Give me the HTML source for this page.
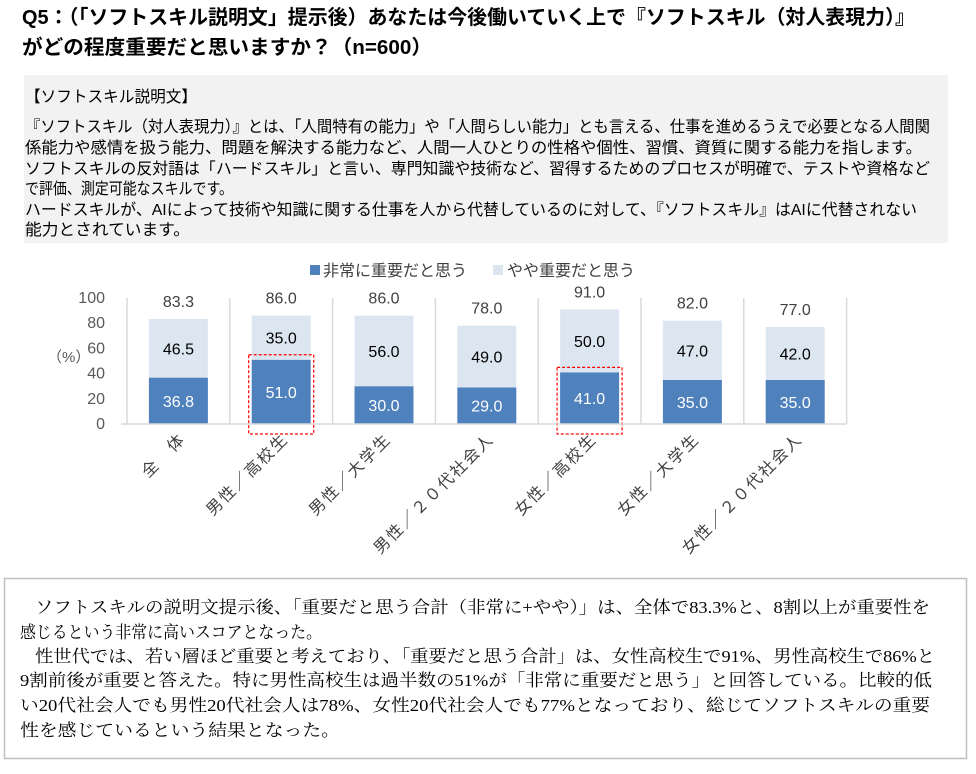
<!DOCTYPE html>
<html><head><meta charset="utf-8"><style>
html,body{margin:0;padding:0;background:#fff;}
svg{display:block;}
.t{font-family:"Liberation Sans","Noto Sans CJK JP",sans-serif;}
.s{font-family:"Liberation Serif","Noto Serif CJK SC",serif;}
</style></head><body>
<svg id="pg" width="976" height="774" viewBox="0 0 976 774" xmlns="http://www.w3.org/2000/svg">
<g class="t" font-weight="bold" font-size="20" fill="#000">
<text x="22" y="24" textLength="893" lengthAdjust="spacingAndGlyphs">Q5：（「ソフトスキル説明文」提示後）あなたは今後働いていく上で『ソフトスキル（対人表現力）』</text>
<text x="22" y="54" textLength="410" lengthAdjust="spacingAndGlyphs">がどの程度重要だと思いますか？（n=600）</text>
</g>
<g>
<rect x="24" y="75" width="924" height="168" fill="#f2f2f2"/>
<g class="t" font-size="16" fill="#000">
<text x="25" y="102" textLength="172" lengthAdjust="spacingAndGlyphs">【ソフトスキル説明文】</text>
<text x="25" y="132" textLength="905" lengthAdjust="spacingAndGlyphs">『ソフトスキル（対人表現力）』とは、「人間特有の能力」や「人間らしい能力」とも言える、仕事を進めるうえで必要となる人間関</text>
<text x="25" y="153" textLength="897" lengthAdjust="spacingAndGlyphs">係能力や感情を扱う能力、問題を解決する能力など、人間一人ひとりの性格や個性、習慣、資質に関する能力を指します。</text>
<text x="25" y="174" textLength="905" lengthAdjust="spacingAndGlyphs">ソフトスキルの反対語は「ハードスキル」と言い、専門知識や技術など、習得するためのプロセスが明確で、テストや資格など</text>
<text x="25" y="194" textLength="208" lengthAdjust="spacingAndGlyphs">で評価、測定可能なスキルです。</text>
<text x="25" y="215" textLength="892" lengthAdjust="spacingAndGlyphs">ハードスキルが、AIによって技術や知識に関する仕事を人から代替しているのに対して、『ソフトスキル』はAIに代替されない</text>
<text x="25" y="235" textLength="165" lengthAdjust="spacingAndGlyphs">能力とされています。</text>
</g>
</g>
<g id="chart"></g>
<g>
<rect x="4.5" y="578.5" width="962" height="180" fill="#fff" stroke="#bfbfbf" stroke-width="1.5"/>
<g class="s" font-size="17" fill="#000">
<text x="35" y="613" textLength="895" lengthAdjust="spacingAndGlyphs">ソフトスキルの説明文提示後、「重要だと思う合計（非常に+やや）」は、全体で83.3%と、8割以上が重要性を</text>
<text x="20" y="638" textLength="302" lengthAdjust="spacingAndGlyphs">感じるという非常に高いスコアとなった。</text>
<text x="35" y="662" textLength="900" lengthAdjust="spacingAndGlyphs">性世代では、若い層ほど重要と考えており、「重要だと思う合計」は、女性高校生で91%、男性高校生で86%と</text>
<text x="20" y="686" textLength="912" lengthAdjust="spacingAndGlyphs">9割前後が重要と答えた。特に男性高校生は過半数の51%が「非常に重要だと思う」と回答している。比較的低</text>
<text x="20" y="711" textLength="910" lengthAdjust="spacingAndGlyphs">い20代社会人でも男性20代社会人は78%、女性20代社会人でも77%となっており、総じてソフトスキルの重要</text>
<text x="20" y="736" textLength="320" lengthAdjust="spacingAndGlyphs">性を感じているという結果となった。</text>
</g>
</g>
</svg>
<script>
const categories = ["全　体","男性／高校生","男性／大学生","男性／２０代社会人","女性／高校生","女性／大学生","女性／２０代社会人"];
const veryImportant = [36.8, 51.0, 30.0, 29.0, 41.0, 35.0, 35.0];
const somewhatImportant = [46.5, 35.0, 56.0, 49.0, 50.0, 47.0, 42.0];
const totals = [83.3, 86.0, 86.0, 78.0, 91.0, 82.0, 77.0];
const yTicks = [0, 20, 40, 60, 80, 100];
const highlighted = [1, 4];

const NS = "http://www.w3.org/2000/svg";
const g = document.getElementById("chart");
const x0 = 127, step = 102.8, barW = 59;
const yBase = 424, yTop = 298;
function yScale(v){ return yBase - (v/100)*(yBase-yTop); }
function xCenter(i){ return x0 + step*(i+0.5); }
function mk(tag, attrs, txt){ const e=document.createElementNS(NS,tag); for(const k in attrs) e.setAttribute(k,attrs[k]); if(txt!==undefined) e.textContent=txt; g.appendChild(e); return e; }

for(let i=0;i<=categories.length;i++){
  const l = mk("line",{x1:x0+step*i,x2:x0+step*i,y1:yTop,y2:yBase,stroke:"#d9d9d9","stroke-width":1.5});
  
  
}
yTicks.forEach(t=>{
  const e = mk("text",{x:105,y:yScale(t)+5,"text-anchor":"end","font-size":16,fill:"#595959",class:"t"},String(t));
  
  
});
const yl = mk("text",{x:47,y:362,"font-size":15,fill:"#595959",class:"t"},"（%）");



categories.forEach((c,i)=>{
  const cx = xCenter(i), bx = cx - barW/2;
  const y1 = yScale(veryImportant[i]);
  const y2 = yScale(veryImportant[i]+somewhatImportant[i]);
  const b1 = mk("rect",{x:bx,y:y1,width:barW,height:yBase-y1,fill:"#4f81bd"});
  
  
  const b2 = mk("rect",{x:bx,y:y2,width:barW,height:y1-y2,fill:"#dce6f1"});
  
  
  const l1 = mk("text",{x:cx,y:(y1+yBase)/2+6,"text-anchor":"middle","font-size":16,fill:"#fff",class:"t"},veryImportant[i].toFixed(1));
  
  
  const l2 = mk("text",{x:cx,y:(y1+y2)/2+6,"text-anchor":"middle","font-size":16,fill:"#000",class:"t"},somewhatImportant[i].toFixed(1));
  
  
  const l3 = mk("text",{x:cx,y:yScale(totals[i])-12,"text-anchor":"middle","font-size":16,fill:"#404040",class:"t"},totals[i].toFixed(1));
  
  
  const cl = mk("text",{x:cx+8,y:440,"text-anchor":"end","font-size":16,"letter-spacing":2,fill:"#404040",class:"t",transform:`rotate(-45 ${cx+8} 440)`},c);
  
  
  if(highlighted.includes(i)){
    const h = mk("rect",{x:bx-3,y:y1-5,width:barW+6,height:yBase-y1+15,fill:"none",stroke:"#ff0000","stroke-width":1.2,"stroke-dasharray":"3,2"});
    
    
  }
});
const ax = mk("line",{x1:x0-6,x2:x0+step*categories.length,y1:yBase,y2:yBase,stroke:"#d9d9d9","stroke-width":1.5});



const s1 = mk("rect",{x:310,y:265,width:10,height:10,fill:"#4f81bd"});


const t1 = mk("text",{x:323,y:276,"font-size":16,fill:"#404040",class:"t"},"非常に重要だと思う");


const s2 = mk("rect",{x:493,y:265,width:10,height:10,fill:"#dce6f1"});


const t2 = mk("text",{x:507,y:276,"font-size":16,fill:"#404040",class:"t"},"やや重要だと思う");


</script>
</body></html>
